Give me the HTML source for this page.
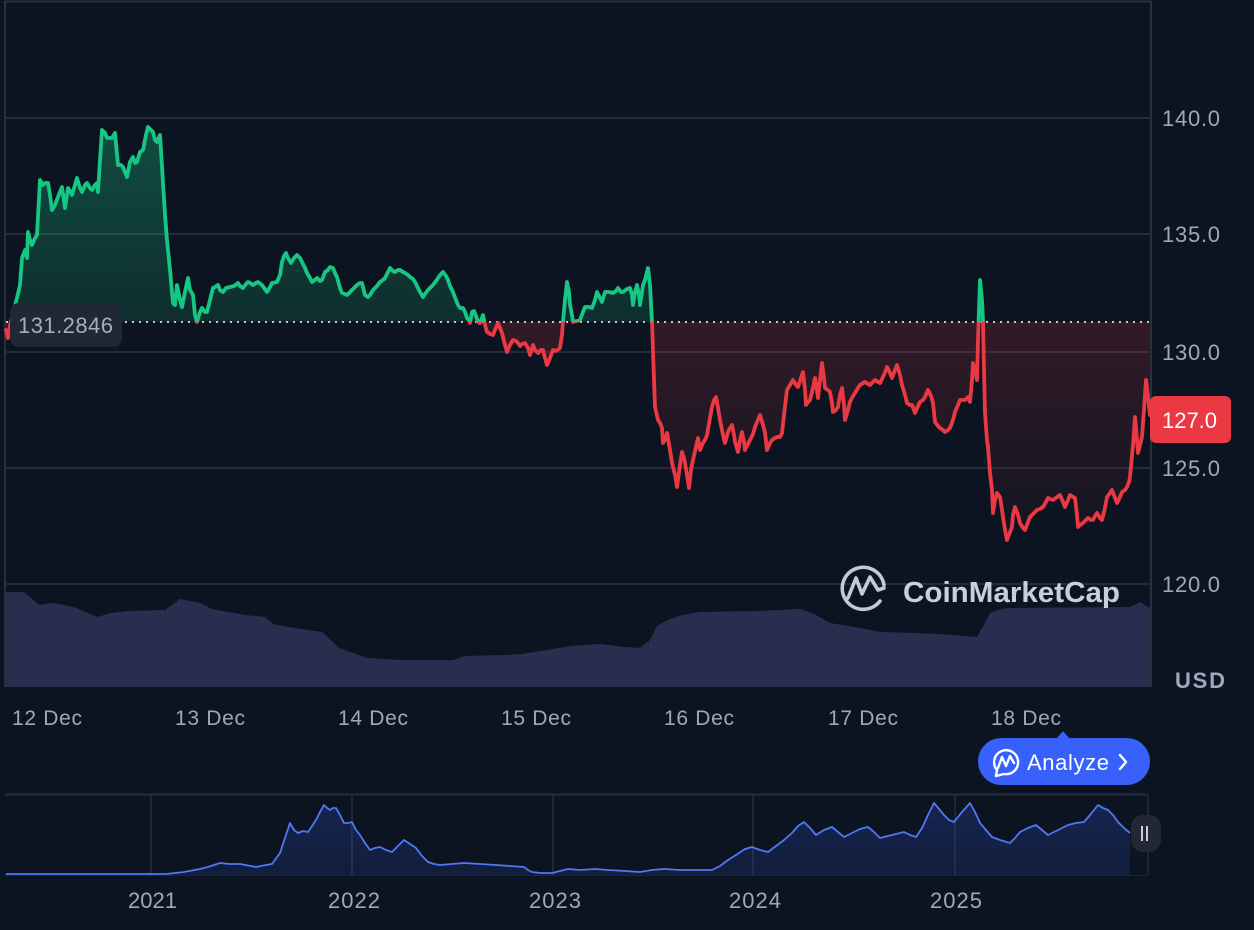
<!DOCTYPE html>
<html><head><meta charset="utf-8">
<style>
html,body{margin:0;padding:0;background:#0d1421;}
svg{display:block;}
text{font-family:"Liberation Sans",sans-serif;}
</style></head>
<body>
<svg width="1254" height="930" viewBox="0 0 1254 930" xmlns="http://www.w3.org/2000/svg">
<defs>
<linearGradient id="gg" x1="0" y1="127" x2="0" y2="322" gradientUnits="userSpaceOnUse">
<stop offset="0" stop-color="#16c784" stop-opacity="0.32"/>
<stop offset="1" stop-color="#16c784" stop-opacity="0.14"/>
</linearGradient>
<linearGradient id="rg" x1="0" y1="322" x2="0" y2="545" gradientUnits="userSpaceOnUse">
<stop offset="0" stop-color="#ea3943" stop-opacity="0.17"/>
<stop offset="1" stop-color="#ea3943" stop-opacity="0.02"/>
</linearGradient>
<linearGradient id="ng" x1="0" y1="800" x2="0" y2="875" gradientUnits="userSpaceOnUse">
<stop offset="0" stop-color="#3861fb" stop-opacity="0.22"/>
<stop offset="1" stop-color="#3861fb" stop-opacity="0.12"/>
</linearGradient>
<clipPath id="above"><rect x="0" y="0" width="1151" height="322"/></clipPath>
<clipPath id="below"><rect x="0" y="322" width="1151" height="400"/></clipPath>
<pattern id="vstripe" width="4" height="10" patternUnits="userSpaceOnUse">
<rect width="4" height="10" fill="#283052"/>
<rect width="1" height="10" fill="#252c4c"/>
</pattern>
</defs>

<rect width="1254" height="930" fill="#0d1421"/>

<!-- borders -->
<line x1="5" y1="1.5" x2="1151" y2="1.5" stroke="#2b3040" stroke-width="2"/>
<line x1="5" y1="1" x2="5" y2="687" stroke="#2b3040" stroke-width="2"/>
<line x1="1151" y1="1" x2="1151" y2="687" stroke="#2b3040" stroke-width="2"/>

<!-- grid -->
<g stroke="#262b39" stroke-width="2">
<line x1="5" y1="118" x2="1151" y2="118"/>
<line x1="5" y1="234" x2="1151" y2="234"/>
<line x1="5" y1="352" x2="1151" y2="352"/>
<line x1="5" y1="468" x2="1151" y2="468"/>
<line x1="5" y1="584" x2="1151" y2="584"/>
</g>

<!-- volume -->
<polygon fill="url(#vstripe)" points="6,687 6,592 24,592 39,605 53,603 73,607 98,617 110,613 131,611 165,610 180,599 200,603 212,609 245,615 265,617 273,624 294,628 322,632 339,648 367,658 400,660 453,660 465,656 506,655 522,654 547,650 571,646 600,644 624,647 640,648 650,640 657,626 670,619 682,615 700,612 760,611 800,609 812,613 830,623 860,628 880,632 940,634 977,637 984,625 990,613 1000,609 1010,608 1130,607 1140,602 1146,606 1150,608 1150,687"/>

<!-- price fills -->
<polygon id="fillpoly" clip-path="url(#above)" fill="url(#gg)" points=""/>
<polygon id="fillpoly2" clip-path="url(#below)" fill="url(#rg)" points=""/>

<!-- baseline -->
<line x1="6" y1="322" x2="1150" y2="322" stroke="#c3c7d2" stroke-width="2" stroke-dasharray="2 5"/>

<!-- price line -->
<polyline id="lineG" clip-path="url(#above)" fill="none" stroke="#16c784" stroke-width="3.8" stroke-linejoin="round" stroke-linecap="round" points=""/>
<polyline id="lineR" clip-path="url(#below)" fill="none" stroke="#ea3943" stroke-width="3.8" stroke-linejoin="round" stroke-linecap="round" points=""/>

<!-- start label -->
<rect x="10" y="303" width="112" height="44" rx="9" fill="#222735"/>
<text x="18" y="333" font-size="22" fill="#a7adbf" textLength="95">131.2846</text>

<!-- y axis labels -->
<g font-size="22" fill="#a1a7bb">
<text x="1162" y="126" textLength="58">140.0</text>
<text x="1162" y="242" textLength="58">135.0</text>
<text x="1162" y="360" textLength="58">130.0</text>
<text x="1162" y="476" textLength="58">125.0</text>
<text x="1162" y="592" textLength="58">120.0</text>
</g>
<text x="1175" y="688" font-size="22" font-weight="bold" fill="#a1a7bb" textLength="50">USD</text>

<!-- price tag -->
<rect x="1150" y="396" width="81" height="47" rx="6" fill="#ea3943"/>
<text x="1162" y="428" font-size="22" fill="#ffffff" textLength="55">127.0</text>

<!-- watermark -->
<g opacity="0.88" stroke="#dfe3ec" fill="none" stroke-width="3.6" stroke-linecap="round" stroke-linejoin="round">
<path d="M880,601 A21,21 0 1 1 884,585"/>
<polyline points="848,598 856,578 862,594 870,577 878,590 884,588"/>
</g>
<text x="903" y="602" font-size="29" font-weight="bold" fill="#dfe3ec" opacity="0.9" textLength="217" lengthAdjust="spacingAndGlyphs">CoinMarketCap</text>

<!-- x date labels -->
<g font-size="21" fill="#a1a7bb">
<text x="12" y="725" textLength="70">12 Dec</text>
<text x="175" y="725" textLength="70">13 Dec</text>
<text x="338" y="725" textLength="70">14 Dec</text>
<text x="501" y="725" textLength="70">15 Dec</text>
<text x="664" y="725" textLength="70">16 Dec</text>
<text x="828" y="725" textLength="70">17 Dec</text>
<text x="991" y="725" textLength="70">18 Dec</text>
</g>

<!-- Analyze button -->
<polygon points="1056,739 1063,731 1070,739" fill="#3861fb"/>
<rect x="978" y="738" width="172" height="47" rx="23.5" fill="#3861fb"/>
<g stroke="#ffffff" stroke-width="2.4" fill="none" stroke-linecap="round" stroke-linejoin="round">
<path d="M997,770 A12,12 0 1 1 1004,774 L996,776 Z"/>
<polyline points="998,768 1002,757 1006,766 1010,756 1014,763"/>
<polyline points="1120,755 1126,762 1120,769"/>
</g>
<text x="1027" y="770" font-size="22" fill="#ffffff" textLength="82">Analyze</text>

<!-- navigator -->
<line x1="5" y1="794.5" x2="1148" y2="794.5" stroke="#262b39" stroke-width="2"/>
<g stroke="#262b39" stroke-width="1.5">
<line x1="151" y1="795" x2="151" y2="875"/>
<line x1="352" y1="795" x2="352" y2="875"/>
<line x1="553" y1="795" x2="553" y2="875"/>
<line x1="753" y1="795" x2="753" y2="875"/>
<line x1="955" y1="795" x2="955" y2="875"/>
<line x1="1148" y1="795" x2="1148" y2="875"/>
</g>
<polygon id="navfill" fill="url(#ng)" points=""/>
<polyline id="navline" fill="none" stroke="#4f78f2" stroke-width="1.8" stroke-linejoin="round" points=""/>
<line x1="5" y1="875.5" x2="1148" y2="875.5" stroke="#1e2433" stroke-width="1"/>

<rect x="1131" y="815" width="30" height="37" rx="12" fill="#222736"/>
<line x1="1142" y1="826" x2="1142" y2="841" stroke="#c8ccd6" stroke-width="2"/>
<line x1="1147" y1="826" x2="1147" y2="841" stroke="#c8ccd6" stroke-width="2"/>

<g font-size="22" fill="#a1a7bb">
<text x="128" y="908" textLength="49">2021</text>
<text x="328" y="908" textLength="52">2022</text>
<text x="529" y="908" textLength="52">2023</text>
<text x="729" y="908" textLength="52">2024</text>
<text x="930" y="908" textLength="52">2025</text>
</g>
</svg>
<script>
var P="6,330 8,338 10,325 14,310 17,298 20,285 22,258 25,250 27,258 28,232 30,240 32,245 35,238 37,235 40,180 43,185 45,183 48,183 50,195 52,210 55,205 58,197 60,192 62,187 65,208 68,188 72,195 75,185 77,178 80,188 82,192 85,185 87,183 90,188 92,190 95,185 97,183 98,192 100,160 102,130 105,133 107,138 110,138 112,138 115,133 118,165 121,165 123,167 127,177 130,162 133,157 135,163 137,162 140,152 143,150 146,135 148,127 151,130 153,132 155,140 157,142 160,135 163,183 165,215 167,240 170,270 173,303 175,305 177,285 180,300 182,307 185,292 188,278 190,290 193,295 195,315 197,322 200,312 202,308 205,312 207,312 210,300 213,288 215,287 218,285 220,290 223,292 226,288 230,287 234,286 238,283 240,286 243,288 246,284 248,282 250,283 253,285 256,283 258,282 262,285 267,292 270,287 272,283 277,282 280,275 282,262 284,256 286,253 288,258 291,263 294,258 297,255 300,258 302,262 305,268 307,273 310,278 312,282 315,280 317,278 320,281 322,280 325,272 328,270 330,267 333,268 335,273 337,277 340,288 342,293 345,294 347,295 350,292 352,290 355,287 357,285 360,283 362,283 365,295 368,297 370,295 373,290 377,286 380,282 383,280 385,278 388,272 390,268 393,271 395,272 398,270 400,270 403,272 405,273 408,275 410,277 413,279 415,282 418,288 420,292 423,297 425,294 428,290 431,287 433,285 436,281 438,278 441,274 443,272 446,276 448,280 450,286 453,292 456,300 458,305 460,308 463,308 465,312 467,318 469,320 470,323 472,312 474,311 476,316 478,322 480,323 483,315 485,325 487,332 490,334 493,335 495,330 498,323 500,328 502,333 505,345 507,352 510,345 513,340 516,341 518,343 520,346 522,344 525,343 528,348 530,355 533,345 535,350 538,353 541,350 543,350 545,358 547,365 550,358 553,350 556,351 560,348 562,335 563,322 565,300 567,282 569,292 570,305 572,315 573,322 577,321 580,320 583,312 585,307 589,307 592,308 595,300 597,292 600,298 602,302 605,292 609,292 613,293 616,291 618,288 621,292 623,292 627,289 630,288 632,295 633,305 635,292 637,285 639,295 640,305 642,292 643,285 645,280 648,268 650,285 652,322 654,380 655,407 658,420 660,423 662,428 663,443 665,440 667,433 670,450 672,463 675,475 677,487 680,465 682,452 684,458 685,463 687,475 689,488 691,470 693,460 696,447 698,438 700,450 703,443 705,440 707,435 710,418 712,407 714,400 716,397 718,408 720,420 723,435 725,443 727,436 728,432 730,428 732,425 734,435 735,442 738,452 740,440 742,432 744,442 745,450 748,444 750,440 753,434 755,427 758,420 760,415 763,425 765,433 767,450 770,443 772,440 775,438 777,437 780,437 782,433 784,415 787,390 790,385 793,380 796,385 798,387 801,378 803,372 805,390 806,405 808,402 810,400 813,388 815,378 817,390 818,398 820,380 822,363 824,378 825,388 828,390 830,392 832,403 833,412 836,410 838,407 840,395 842,388 844,405 845,420 848,410 850,402 853,396 855,393 858,388 860,385 863,383 865,382 868,384 870,385 873,382 875,380 878,382 880,383 884,375 887,367 890,373 892,378 895,370 897,365 900,375 902,385 905,395 907,403 910,405 912,405 914,410 915,413 918,406 920,402 923,400 925,397 928,390 931,396 933,403 935,422 938,426 940,428 943,430 945,432 948,430 950,428 953,420 955,412 958,405 960,400 963,400 965,400 968,397 970,402 972,380 973,363 975,370 977,380 978,340 980,280 982,300 983,322 984,370 985,413 987,440 988,447 990,473 992,490 993,513 995,500 997,493 1000,497 1002,510 1003,517 1005,530 1007,540 1010,532 1012,527 1013,515 1015,507 1018,515 1020,523 1023,528 1025,530 1028,522 1030,517 1033,514 1037,510 1040,509 1043,507 1046,502 1048,498 1050,499 1053,500 1057,497 1060,495 1063,502 1065,507 1068,500 1070,495 1073,497 1075,498 1077,515 1078,527 1080,525 1083,523 1086,520 1088,518 1091,520 1093,520 1095,516 1097,513 1100,518 1102,520 1105,508 1107,497 1110,493 1112,490 1115,498 1117,503 1120,497 1122,492 1125,490 1127,487 1129,482 1130,477 1133,445 1135,417 1137,440 1138,453 1140,445 1142,437 1144,410 1146,380 1148,397 1150,415";
document.getElementById("lineG").setAttribute("points",P);
document.getElementById("lineR").setAttribute("points",P);
var F=P+" 1150,322 6,322";
document.getElementById("fillpoly").setAttribute("points",F);
document.getElementById("fillpoly2").setAttribute("points",F);
var N="6,874 100,874 151,874 166,874 184,872 200,869 208,867 220,863 230,864 240,864 256,867 266,865 272,864 280,853 286,835 290,823 294,830 298,833 303,831 308,832 312,826 316,820 320,812 324,805 327,808 330,810 333,808 336,808 340,815 344,823 348,823 352,822 356,830 360,835 365,843 370,850 375,848 380,847 386,850 392,852 398,846 404,840 410,844 416,848 422,856 428,862 434,864 440,865 452,864 464,863 480,864 496,865 510,866 524,867 528,870 532,872 540,873 552,873 560,871 568,869 580,870 595,869 608,870 625,871 640,872 652,870 664,869 680,870 700,870 712,870 720,866 728,860 736,855 745,849 752,847 760,850 768,852 776,846 784,840 792,833 798,826 804,822 810,828 816,835 824,830 832,827 838,832 844,837 852,833 860,829 868,827 874,832 880,838 888,836 896,834 904,832 910,835 916,837 922,828 928,815 934,803 939,809 944,815 949,820 954,822 962,812 970,803 975,812 980,823 986,830 992,837 1000,840 1010,843 1015,838 1020,832 1028,828 1036,825 1042,830 1048,835 1058,830 1068,825 1076,823 1084,822 1090,815 1098,805 1103,808 1108,810 1113,815 1118,822 1124,828 1130,833";
document.getElementById("navline").setAttribute("points",N);
document.getElementById("navfill").setAttribute("points",N+" 1130,875 6,875");
</script>
</body></html>
